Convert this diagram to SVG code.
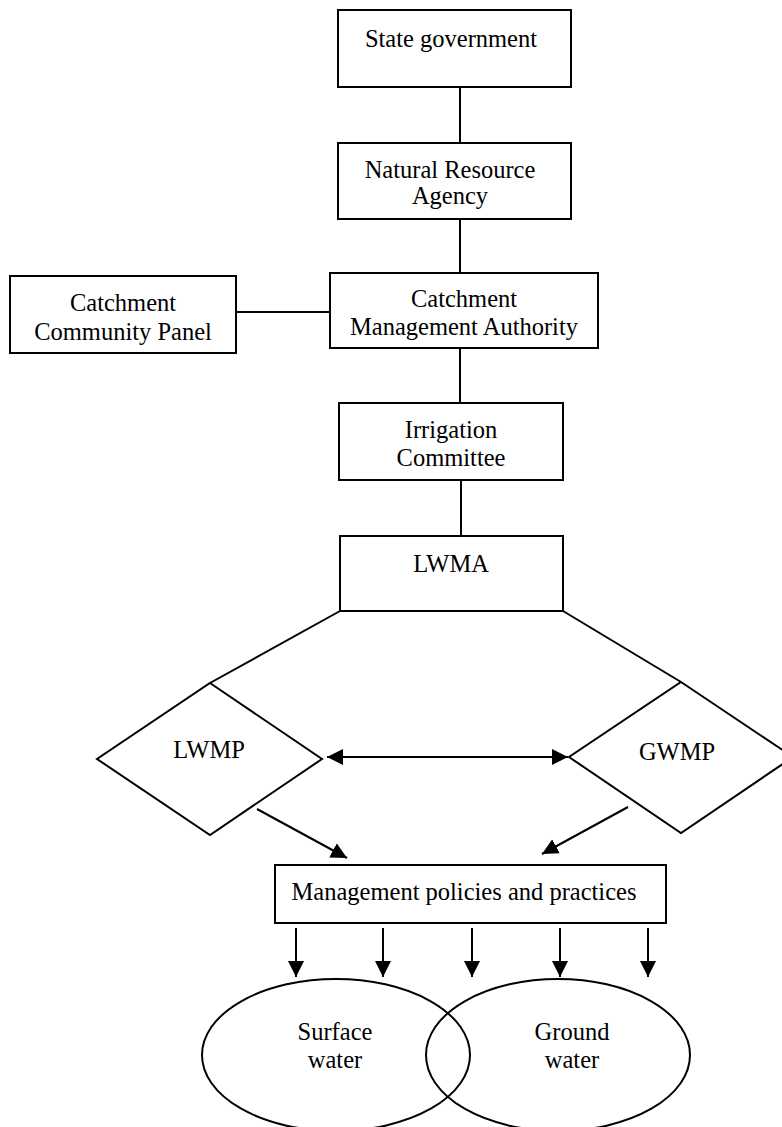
<svg xmlns="http://www.w3.org/2000/svg" width="782" height="1127" viewBox="0 0 782 1127">
<style>
.box{fill:#fff;stroke:#000;stroke-width:2}
.ln{fill:none;stroke:#000;stroke-width:2}
.t{font-family:"Liberation Serif","Times New Roman",serif;font-size:24.5px;fill:#000;text-anchor:middle}
</style>
<defs>
<marker id="ah" markerUnits="userSpaceOnUse" markerWidth="17" markerHeight="17" refX="16" refY="8" orient="auto-start-reverse">
<path d="M0,0 L16,8 L0,16 z" fill="#000"/>
</marker>
</defs>
<rect width="782" height="1127" fill="#fff"/>
<g id="connectors">
<line class="ln" x1="460" y1="87" x2="460" y2="143"/>
<line class="ln" x1="460" y1="219" x2="460" y2="273"/>
<line class="ln" x1="236" y1="312" x2="330" y2="312"/>
<line class="ln" x1="460" y1="348" x2="460" y2="403"/>
<line class="ln" x1="461" y1="480" x2="461" y2="536"/>
<line class="ln" x1="340" y1="611" x2="210" y2="683"/>
<line class="ln" x1="563" y1="611" x2="681" y2="682"/>
<line class="ln" x1="327" y1="757" x2="568" y2="757" marker-start="url(#ah)" marker-end="url(#ah)"/>
<line class="ln" x1="257" y1="809" x2="347" y2="858" marker-end="url(#ah)"/>
<line class="ln" x1="628" y1="807" x2="542" y2="854" marker-end="url(#ah)"/>
<line class="ln" x1="296" y1="928" x2="296" y2="977" marker-end="url(#ah)"/>
<line class="ln" x1="383" y1="928" x2="383" y2="977" marker-end="url(#ah)"/>
<line class="ln" x1="472" y1="928" x2="472" y2="977" marker-end="url(#ah)"/>
<line class="ln" x1="560" y1="928" x2="560" y2="977" marker-end="url(#ah)"/>
<line class="ln" x1="648" y1="928" x2="648" y2="977" marker-end="url(#ah)"/>
</g>
<g id="state-government">
<rect class="box" x="338" y="10" width="233" height="77"/>
<text class="t" x="451" y="47">State government</text>
</g>
<g id="natural-resource-agency">
<rect class="box" x="338" y="143" width="233" height="76"/>
<text class="t" x="450" y="178">Natural Resource</text>
<text class="t" x="450" y="204">Agency</text>
</g>
<g id="catchment-community-panel">
<rect class="box" x="10" y="276" width="226" height="77"/>
<text class="t" x="123" y="311">Catchment</text>
<text class="t" x="123" y="340">Community Panel</text>
</g>
<g id="catchment-management-authority">
<rect class="box" x="330" y="273" width="268" height="75"/>
<text class="t" x="464" y="307">Catchment</text>
<text class="t" x="464" y="335">Management Authority</text>
</g>
<g id="irrigation-committee">
<rect class="box" x="339" y="403" width="224" height="77"/>
<text class="t" x="451" y="438">Irrigation</text>
<text class="t" x="451" y="466">Committee</text>
</g>
<g id="lwma">
<rect class="box" x="340" y="536" width="223" height="75"/>
<text class="t" x="451" y="572">LWMA</text>
</g>
<g id="lwmp">
<polygon class="box" points="210,683 322,759 210,835 97,759"/>
<text class="t" x="209" y="758">LWMP</text>
</g>
<g id="gwmp">
<polygon class="box" points="681,682 793,757 681,833 569,757"/>
<text class="t" x="677" y="760">GWMP</text>
</g>
<g id="management-policies">
<rect class="box" x="275" y="865" width="391" height="58"/>
<text class="t" x="464" y="900">Management policies and practices</text>
</g>
<g id="surface-water">
<ellipse class="ln" cx="336" cy="1055" rx="134" ry="76"/>
<text class="t" x="335" y="1040">Surface</text>
<text class="t" x="335" y="1068">water</text>
</g>
<g id="ground-water">
<ellipse class="ln" cx="558" cy="1055" rx="132" ry="76"/>
<text class="t" x="572" y="1040">Ground</text>
<text class="t" x="572" y="1068">water</text>
</g>
</svg>
